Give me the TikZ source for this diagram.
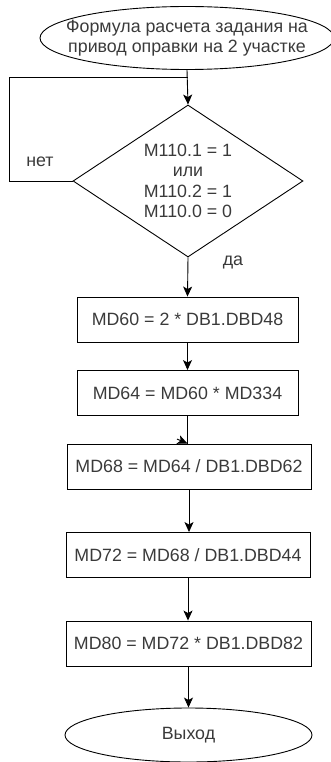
\documentclass[tikz,border=0pt]{standalone}
\usepackage{fontspec}
\setmainfont{Liberation Sans}
\usetikzlibrary{shapes.geometric,arrows.meta,calc}
\definecolor{txt}{HTML}{3A3A3A}
\begin{document}
\begin{tikzpicture}[x=1pt,y=-1pt,
  font=\fontsize{17.8}{20.5}\selectfont,
  every node/.style={text=txt},
  line/.style={draw=black,line width=0.9pt},
  tip/.style={-{Stealth[length=10pt,width=9pt,inset=2.5pt]}},
  arr/.style={line,tip},
  term/.style={ellipse,draw=black,line width=0.9pt,inner sep=0pt,align=center},
  proc/.style={rectangle,draw=black,line width=0.9pt,inner sep=0pt,minimum height=45pt},
  cond/.style={diamond,draw=black,line width=0.9pt,inner sep=0pt,align=center,
    minimum width=230pt,minimum height=152pt,shape aspect=1.513},
  lbl/.style={inner sep=0pt,align=center}]
\useasboundingbox (0,0) rectangle (331,762);

% start terminal: the outline is fixed in size, its two lines sit on top
\node[term,minimum width=294pt,minimum height=63pt] (start) at (187,38) {};
\node[lbl] (starttext) at (start.center)
  {Формула расчета задания на\\привод оправки на 2 участке};
\node[cond] (dec) at (188,181)
  {M110.1 = 1\\или\\M110.2 = 1\\M110.0 = 0};

% calculation steps
\node[proc,minimum width=221pt] (b1) at (187.5,319.5) {MD60 = 2 * DB1.DBD48};
\node[proc,minimum width=221pt] (b2) at (187.5,393) {MD64 = MD60 * MD334};
\node[proc,minimum width=244pt] (b3) at (189,466.5) {MD68 = MD64 / DB1.DBD62};
\node[proc,minimum width=244pt] (b4) at (188,555) {MD72 = MD68 / DB1.DBD44};
\node[proc,minimum width=245pt] (b5) at (188.5,643.5) {MD80 = MD72 * DB1.DBD82};

% exit
\node[term,minimum width=247pt,minimum height=54pt] (exit) at (188.5,735) {Выход};

% flow
\coordinate (join) at (dec.north |- 0,77);
\draw[arr] (start.south) -- (dec.north);
\draw[line] (dec.west) -- ++(-63,0) |- (join);
\node[lbl] (no) at (40,162) {нет};
\draw[arr] (dec.south) -- (b1.north);
\node[lbl] (yes) at (233,262) {да};
\draw[arr] (b1) -- (b2);
% this connector ends in a tilted head
\coordinate (b3in) at (b2.south |- b3.north);
\coordinate (kink) at ($(b3in)+(-10.5,-4.5)$);
\draw[line] (b2.south) -- (b3in);
\draw[arr] (kink) -- (b3in);
\draw[arr] (b3) -- (b3 |- b4.north);
\draw[arr] (b4) -- (b4 |- b5.north);
\draw[arr] (b5) -- (b5 |- exit.north);
\end{tikzpicture}
\end{document}
